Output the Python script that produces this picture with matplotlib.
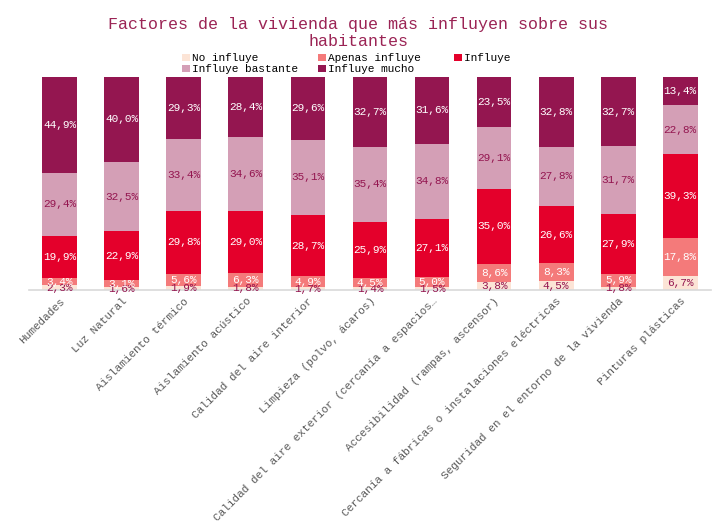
import matplotlib.pyplot as plt
import numpy as np

categorias = ['Humedades', 'Luz Natural', 'Aislamiento térmico', 'Aislamiento acústico',
              'Calidad del aire interior', 'Limpieza (polvo, ácaros)',
              'Calidad del aire exterior (cercanía a espacios…',
              'Accesibilidad (rampas, ascensor)',
              'Cercanía a fábricas o instalaciones eléctricas',
              'Seguridad en el entorno de la vivienda', 'Pinturas plásticas']

no_influye = [2.3, 1.6, 1.9, 1.8, 1.7, 1.4, 1.5, 3.8, 4.5, 1.8, 6.7]
apenas_influye = [3.4, 3.1, 5.6, 6.3, 4.9, 4.5, 5.0, 8.6, 8.3, 5.9, 17.8]
influye = [19.9, 22.9, 29.8, 29.0, 28.7, 25.9, 27.1, 35.0, 26.6, 27.9, 39.3]
influye_bastante = [29.4, 32.5, 33.4, 34.6, 35.1, 35.4, 34.8, 29.1, 27.8, 31.7, 22.8]
influye_mucho = [44.9, 40.0, 29.3, 28.4, 29.6, 32.7, 31.6, 23.5, 32.8, 32.7, 13.4]

series = [
    ('No influye', no_influye, '#FCE4D6', '#941650'),
    ('Apenas influye', apenas_influye, '#F47A7A', 'white'),
    ('Influye', influye, '#E4002B', 'white'),
    ('Influye bastante', influye_bastante, '#D49FB6', '#941650'),
    ('Influye mucho', influye_mucho, '#941650', 'white'),
]

font = 'Liberation Mono'
plt.rcParams['font.family'] = [font, 'DejaVu Sans']

fig = plt.figure(figsize=(7.17, 5.28), dpi=100)
ax = fig.add_axes([0.04, 0.45, 0.952, 0.405])

x = np.arange(len(categorias))
total = np.sum([s[1] for s in series], axis=0)
bottom = np.zeros(len(categorias))
bars = []
for nombre, vals, color, tcolor in series:
    h = np.array(vals) / total * 100
    b_ = ax.bar(x, h, 0.56, bottom=bottom, color=color, label=nombre)
    bars.append(b_)
    for xi, b, hi, v in zip(x, bottom, h, vals):
        ax.text(xi, b + hi / 2, ('%.1f%%' % v).replace('.', ','), ha='center', va='center',
                fontsize=8, color=tcolor)
    bottom += h

ax.set_xlim(-0.5, len(categorias) - 0.5)
ax.set_ylim(0, 100)
ax.set_yticks([])
for s in ['top', 'right', 'left']:
    ax.spines[s].set_visible(False)
ax.spines['bottom'].set_color('#D9D9D9')
ax.spines['bottom'].set_linewidth(1.2)
ax.tick_params(axis='x', length=0, pad=4)
ax.set_xticks(x)
ax.set_xticklabels(categorias, rotation=45, ha='right', rotation_mode='anchor',
                   fontsize=8, color='#595959')

fig.text(0.5, 0.938, 'Factores de la vivienda que más influyen sobre sus\nhabitantes',
         ha='center', va='center', fontsize=12, color='#9B2455', linespacing=1.15)

# row-major order for the legend, labels padded so columns are equal width
orden = [0, 3, 1, 4, 2]
handles = [bars[i] for i in orden]
labels = [series[i][0].ljust(16) for i in orden]
leg = fig.legend(handles, labels, loc='center', bbox_to_anchor=(0.525, 0.879), ncol=3,
                 frameon=False, fontsize=8, handlelength=0.7, handleheight=0.7,
                 handletextpad=0.2, columnspacing=1.8, labelspacing=0.1, borderpad=0)

fig.savefig('out.png', dpi=100)
